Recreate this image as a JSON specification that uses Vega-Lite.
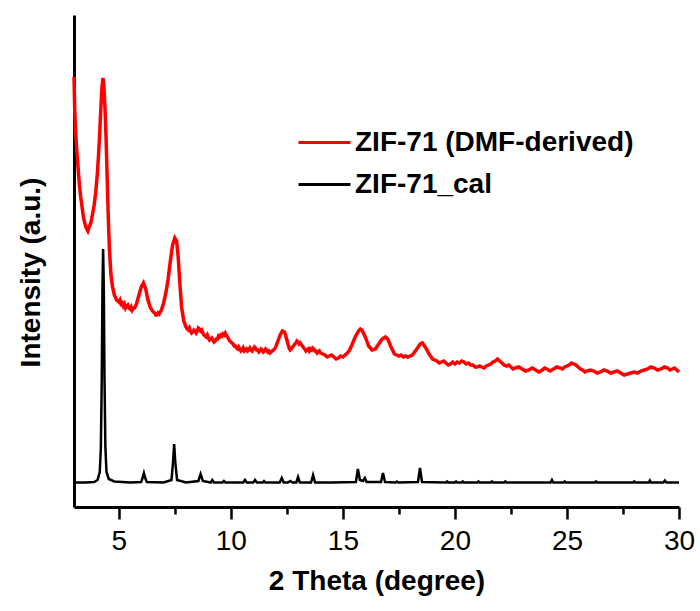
{
  "$schema": "https://vega.github.io/schema/vega-lite/v6.json",
  "width": 605,
  "height": 492,
  "autosize": {"type": "none"},
  "padding": {"left": 74, "top": 15, "right": 21, "bottom": 104},
  "background": "white",
  "config": {"view": {"stroke": null}, "font": "Liberation Sans"},
  "datasets": {
    "red": [
      {"x":3.00,"y":430},{"x":3.03,"y":400},{"x":3.07,"y":375},{"x":3.12,"y":358},{"x":3.18,"y":340},{"x":3.24,"y":322},{"x":3.30,"y":310},{"x":3.36,"y":300},{"x":3.42,"y":290},{"x":3.48,"y":284},{"x":3.55,"y":279},{"x":3.62,"y":276},{"x":3.68,"y":280},{"x":3.75,"y":284},{"x":3.82,"y":292},{"x":3.90,"y":302},{"x":3.97,"y":315},{"x":4.03,"y":330},{"x":4.09,"y":350},{"x":4.15,"y":375},{"x":4.20,"y":400},{"x":4.25,"y":420},{"x":4.29,"y":429},{"x":4.33,"y":422},{"x":4.38,"y":400},{"x":4.43,"y":370},{"x":4.48,"y":330},{"x":4.53,"y":290},{"x":4.58,"y":258},{"x":4.65,"y":232},{"x":4.72,"y":220},{"x":4.80,"y":212},{"x":4.90,"y":207},
      {"x":5.00,"y":205},{"x":5.05,"y":207},{"x":5.10,"y":203},{"x":5.15,"y":204},{"x":5.20,"y":201},{"x":5.25,"y":203},{"x":5.30,"y":199},{"x":5.35,"y":201},{"x":5.40,"y":202},{"x":5.45,"y":199},{"x":5.50,"y":198},{"x":5.55,"y":200},{"x":5.60,"y":197},{"x":5.65,"y":199},{"x":5.70,"y":199},{"x":5.75,"y":201},{"x":5.80,"y":204},{"x":5.90,"y":212},{"x":6.00,"y":220},{"x":6.10,"y":224},{"x":6.20,"y":218},{"x":6.30,"y":207},{"x":6.40,"y":200},{"x":6.50,"y":196},{"x":6.55,"y":195},{"x":6.60,"y":194},{"x":6.65,"y":192},{"x":6.70,"y":192},{"x":6.75,"y":194},{"x":6.80,"y":193},{"x":6.90,"y":197},{"x":7.00,"y":204},{"x":7.10,"y":214},{"x":7.20,"y":228},{"x":7.30,"y":246},{"x":7.40,"y":262},{"x":7.50,"y":269},{"x":7.58,"y":266},{"x":7.65,"y":250},{"x":7.72,"y":225},{"x":7.80,"y":200},{"x":7.90,"y":186},
      {"x":8.00,"y":180},{"x":8.05,"y":178},{"x":8.10,"y":177},{"x":8.15,"y":179},{"x":8.20,"y":176},{"x":8.25,"y":174},{"x":8.30,"y":175},{"x":8.35,"y":177},{"x":8.40,"y":176},{"x":8.45,"y":174},{"x":8.50,"y":176},{"x":8.55,"y":179},{"x":8.60,"y":178},{"x":8.65,"y":176},{"x":8.70,"y":177},{"x":8.75,"y":174},{"x":8.80,"y":172},{"x":8.85,"y":171},{"x":8.90,"y":170},{"x":8.95,"y":172},{"x":9.00,"y":169},{"x":9.05,"y":167},{"x":9.10,"y":168},{"x":9.15,"y":169},{"x":9.20,"y":167},{"x":9.25,"y":165},{"x":9.30,"y":166},{"x":9.35,"y":168},{"x":9.40,"y":168},{"x":9.45,"y":171},{"x":9.50,"y":170},{"x":9.55,"y":172},{"x":9.60,"y":171},{"x":9.65,"y":173},{"x":9.70,"y":172},{"x":9.75,"y":174},{"x":9.80,"y":172},{"x":9.85,"y":170},{"x":9.90,"y":168},{"x":9.95,"y":166},{"x":10.00,"y":165},{"x":10.05,"y":164},{"x":10.10,"y":163},{"x":10.15,"y":161},{"x":10.20,"y":161},{"x":10.25,"y":159},{"x":10.30,"y":158},{"x":10.35,"y":160},{"x":10.40,"y":158},{"x":10.45,"y":156},{"x":10.50,"y":157},{"x":10.55,"y":159},{"x":10.60,"y":156},{"x":10.65,"y":157},{"x":10.70,"y":158},{"x":10.75,"y":156},{"x":10.80,"y":157},{"x":10.85,"y":159},{"x":10.90,"y":157},{"x":10.95,"y":156},{"x":11.00,"y":158},{"x":11.05,"y":160},{"x":11.10,"y":159},{"x":11.15,"y":157},{"x":11.20,"y":157},{"x":11.25,"y":155},{"x":11.30,"y":156},{"x":11.35,"y":158},{"x":11.40,"y":157},{"x":11.45,"y":155},{"x":11.50,"y":156},{"x":11.55,"y":158},{"x":11.60,"y":157},{"x":11.65,"y":155},{"x":11.70,"y":156},{"x":11.75,"y":154},{"x":11.80,"y":155},{"x":11.85,"y":156},{"x":11.90,"y":157},{"x":11.95,"y":158},
      {"x":12.00,"y":160},{"x":12.10,"y":166},{"x":12.20,"y":172},{"x":12.30,"y":176},{"x":12.40,"y":175},{"x":12.50,"y":167},{"x":12.60,"y":159},{"x":12.65,"y":157},{"x":12.70,"y":158},{"x":12.75,"y":160},{"x":12.80,"y":161},{"x":12.85,"y":163},{"x":12.90,"y":164},{"x":12.95,"y":166},{"x":13.00,"y":165},{"x":13.05,"y":163},{"x":13.10,"y":164},{"x":13.15,"y":162},{"x":13.20,"y":161},{"x":13.25,"y":159},{"x":13.30,"y":158},{"x":13.35,"y":156},{"x":13.40,"y":157},{"x":13.45,"y":158},{"x":13.50,"y":156},{"x":13.55,"y":158},{"x":13.60,"y":157},{"x":13.65,"y":159},{"x":13.70,"y":158},{"x":13.75,"y":156},{"x":13.80,"y":156},{"x":13.85,"y":154},{"x":13.90,"y":155},{"x":13.95,"y":156},{"x":14.00,"y":154},{"x":14.10,"y":153},{"x":14.20,"y":152},{"x":14.30,"y":150},{"x":14.40,"y":151},{"x":14.50,"y":152},{"x":14.60,"y":150},{"x":14.70,"y":148},{"x":14.80,"y":149},{"x":14.90,"y":151},{"x":15.00,"y":150},{"x":15.10,"y":152},{"x":15.20,"y":154},{"x":15.30,"y":157},{"x":15.40,"y":162},{"x":15.55,"y":170},{"x":15.70,"y":176},{"x":15.78,"y":178},{"x":15.85,"y":177},{"x":16.00,"y":170},{"x":16.15,"y":161},{"x":16.30,"y":157},{"x":16.45,"y":158},{"x":16.60,"y":163},{"x":16.75,"y":168},{"x":16.90,"y":170},{"x":17.00,"y":168},{"x":17.15,"y":160},{"x":17.30,"y":153},{"x":17.40,"y":152},{"x":17.50,"y":151},{"x":17.60,"y":152},{"x":17.70,"y":150},{"x":17.80,"y":151},{"x":17.90,"y":150},{"x":18.00,"y":151},{"x":18.10,"y":152},{"x":18.20,"y":155},{"x":18.30,"y":158},{"x":18.45,"y":163},{"x":18.55,"y":164},{"x":18.70,"y":159},{"x":18.85,"y":153},
      {"x":19.00,"y":148},{"x":19.10,"y":147},{"x":19.20,"y":146},{"x":19.30,"y":144},{"x":19.40,"y":145},{"x":19.50,"y":146},{"x":19.60,"y":144},{"x":19.70,"y":142},{"x":19.80,"y":143},{"x":19.90,"y":145},{"x":20.00,"y":143},{"x":20.10,"y":145},{"x":20.20,"y":144},{"x":20.30,"y":146},{"x":20.40,"y":145},{"x":20.50,"y":143},{"x":20.60,"y":144},{"x":20.70,"y":142},{"x":20.80,"y":142},{"x":20.90,"y":140},{"x":21.00,"y":140},{"x":21.10,"y":141},{"x":21.20,"y":140},{"x":21.30,"y":139},{"x":21.40,"y":141},{"x":21.50,"y":142},{"x":21.60,"y":143},{"x":21.70,"y":145},{"x":21.80,"y":146},{"x":21.90,"y":148},{"x":21.95,"y":147},{"x":22.05,"y":145},{"x":22.10,"y":144},{"x":22.20,"y":142},{"x":22.30,"y":141},{"x":22.40,"y":142},{"x":22.50,"y":140},{"x":22.60,"y":138},{"x":22.70,"y":139},{"x":22.85,"y":140},{"x":23.00,"y":138},{"x":23.15,"y":136},{"x":23.30,"y":137},{"x":23.45,"y":139},{"x":23.60,"y":137},{"x":23.75,"y":135},{"x":23.90,"y":137},{"x":24.00,"y":139},{"x":24.10,"y":138},{"x":24.25,"y":136},{"x":24.40,"y":138},{"x":24.55,"y":140},{"x":24.70,"y":139},{"x":24.80,"y":138},{"x":24.90,"y":140},{"x":25.00,"y":141},{"x":25.10,"y":142},{"x":25.20,"y":144},{"x":25.30,"y":143},{"x":25.40,"y":142},{"x":25.50,"y":140},{"x":25.60,"y":138},{"x":25.70,"y":137},{"x":25.80,"y":135},{"x":25.90,"y":136},{"x":26.05,"y":137},{"x":26.20,"y":136},{"x":26.35,"y":134},{"x":26.50,"y":135},{"x":26.65,"y":137},{"x":26.80,"y":136},{"x":26.95,"y":134},{"x":27.10,"y":135},{"x":27.25,"y":136},{"x":27.40,"y":134},{"x":27.55,"y":132},{"x":27.70,"y":133},{"x":27.85,"y":134},{"x":28.00,"y":135},{"x":28.15,"y":134},{"x":28.30,"y":136},{"x":28.45,"y":137},{"x":28.60,"y":138},{"x":28.75,"y":140},{"x":28.90,"y":139},{"x":29.05,"y":137},{"x":29.20,"y":138},{"x":29.35,"y":140},{"x":29.50,"y":139},{"x":29.60,"y":137},{"x":29.70,"y":138},{"x":29.80,"y":139},{"x":29.90,"y":137},{"x":30.00,"y":135}
    ],
    "black": [
      {"x":3.00,"y":24.5},{"x":3.50,"y":24.5},{"x":3.90,"y":25},{"x":4.05,"y":27},{"x":4.15,"y":35},{"x":4.20,"y":60},{"x":4.24,"y":130},{"x":4.27,"y":220},{"x":4.30,"y":258},{"x":4.33,"y":220},{"x":4.36,"y":130},{"x":4.40,"y":60},{"x":4.45,"y":35},{"x":4.55,"y":28},{"x":4.80,"y":25.5},{"x":5.50,"y":24.5},{"x":6.00,"y":25},{"x":6.06,"y":29},{"x":6.12,"y":34},{"x":6.18,"y":29},{"x":6.25,"y":25},{"x":7.00,"y":24.5},{"x":7.35,"y":27},{"x":7.42,"y":45},{"x":7.47,"y":63},{"x":7.52,"y":45},{"x":7.60,"y":27},{"x":8.00,"y":24.5},{"x":8.55,"y":26},{"x":8.65,"y":33},{"x":8.75,"y":26},{"x":9.10,"y":24.5},{"x":9.17,"y":27},{"x":9.25,"y":24.5},{"x":9.62,"y":24.5},{"x":9.69,"y":26},{"x":9.76,"y":24.5},{"x":10.55,"y":24.5},{"x":10.63,"y":27},{"x":10.71,"y":24.5},{"x":11.00,"y":24.5},{"x":11.08,"y":27},{"x":11.16,"y":24.5},{"x":11.42,"y":24.5},{"x":11.48,"y":26},{"x":11.54,"y":24.5},{"x":12.18,"y":24.5},{"x":12.27,"y":29},{"x":12.36,"y":24.5},{"x":12.55,"y":24.5},{"x":12.65,"y":26},{"x":12.75,"y":24.5},{"x":12.92,"y":24.5},{"x":13.00,"y":30},{"x":13.08,"y":24.5},{"x":13.58,"y":24.5},{"x":13.67,"y":32},{"x":13.76,"y":24.5},{"x":14.50,"y":24.5},{"x":15.58,"y":25},{"x":15.67,"y":38},{"x":15.76,"y":27},{"x":15.90,"y":26},{"x":15.98,"y":29},{"x":16.06,"y":25},{"x":16.70,"y":25},{"x":16.79,"y":34},{"x":16.88,"y":25},{"x":17.35,"y":24.5},{"x":17.41,"y":25.5},{"x":17.47,"y":24.5},{"x":18.35,"y":25},{"x":18.44,"y":39},{"x":18.53,"y":25},{"x":19.60,"y":24.5},{"x":19.65,"y":25.5},{"x":19.70,"y":24.5},{"x":20.00,"y":24.5},{"x":20.05,"y":25.5},{"x":20.10,"y":24.5},{"x":20.30,"y":24.5},{"x":20.35,"y":25.5},{"x":20.40,"y":24.5},{"x":21.00,"y":24.5},{"x":21.05,"y":25.5},{"x":21.10,"y":24.5},{"x":21.60,"y":24.5},{"x":21.65,"y":25.5},{"x":21.70,"y":24.5},{"x":22.20,"y":24.5},{"x":22.25,"y":25.5},{"x":22.30,"y":24.5},{"x":24.27,"y":24.5},{"x":24.33,"y":27},{"x":24.39,"y":24.5},{"x":24.85,"y":24.5},{"x":24.90,"y":25.5},{"x":24.95,"y":24.5},{"x":26.25,"y":24.5},{"x":26.30,"y":25.5},{"x":26.35,"y":24.5},{"x":27.95,"y":24.5},{"x":28.00,"y":25.5},{"x":28.05,"y":24.5},{"x":28.65,"y":24.5},{"x":28.70,"y":26.5},{"x":28.75,"y":24.5},{"x":29.30,"y":24.5},{"x":29.37,"y":26.5},{"x":29.44,"y":24.5},{"x":30.00,"y":24.5}
    ]
  },
  "encoding": {
    "x": {
      "field": "x", "type": "quantitative",
      "scale": {"domain": [3, 30], "nice": false, "zero": false},
      "axis": {
        "title": "2 Theta (degree)",
        "values": [5, 7.5, 10, 12.5, 15, 17.5, 20, 22.5, 25, 27.5, 30],
        "labelExpr": "datum.value % 5 === 0 ? datum.label : ''",
        "grid": false,
        "domainColor": "black", "domainWidth": 3,
        "tickColor": "black", "tickWidth": 2.5,
        "tickSize": {"condition": {"test": "datum.value % 5 === 0", "value": 12}, "value": 7},
        "labelFont": "Liberation Sans", "labelFontSize": 28, "labelColor": "black",
        "labelPadding": 8, "labelFlush": false, "labelOverlap": false,
        "titleFont": "Liberation Sans", "titleFontSize": 28, "titleFontWeight": "bold", "titleColor": "black",
        "titlePadding": 12
      }
    },
    "y": {
      "field": "y", "type": "quantitative",
      "scale": {"domain": [0, 492], "nice": false},
      "axis": {
        "title": "Intensity (a.u.)",
        "ticks": false, "labels": false, "grid": false,
        "domainColor": "black", "domainWidth": 3,
        "titleFont": "Liberation Sans", "titleFontSize": 28, "titleFontWeight": "bold", "titleColor": "black",
        "titlePadding": 29, "titleY": 257
      }
    },
    "color": {
      "field": "s", "type": "nominal",
      "scale": {"domain": ["ZIF-71 (DMF-derived)", "ZIF-71_cal"], "range": ["#ff0000", "#000000"]},
      "legend": {
        "title": null, "orient": "none", "legendX": 223, "legendY": 100,
        "symbolType": "stroke", "symbolSize": 2700, "symbolStrokeWidth": 3,
        "rowPadding": -4,
        "labelFont": "Liberation Sans", "labelFontSize": 28, "labelFontWeight": "bold", "labelColor": "black",
        "labelOffset": 3, "labelLimit": 500
      }
    }
  },
  "layer": [
    {
      "data": {"name": "black"},
      "transform": [{"calculate": "'ZIF-71_cal'", "as": "s"}],
      "mark": {"type": "line", "strokeWidth": 2.5}
    },
    {
      "data": {"name": "red"},
      "transform": [{"calculate": "'ZIF-71 (DMF-derived)'", "as": "s"}],
      "mark": {"type": "line", "strokeWidth": 3.5}
    }
  ]
}
